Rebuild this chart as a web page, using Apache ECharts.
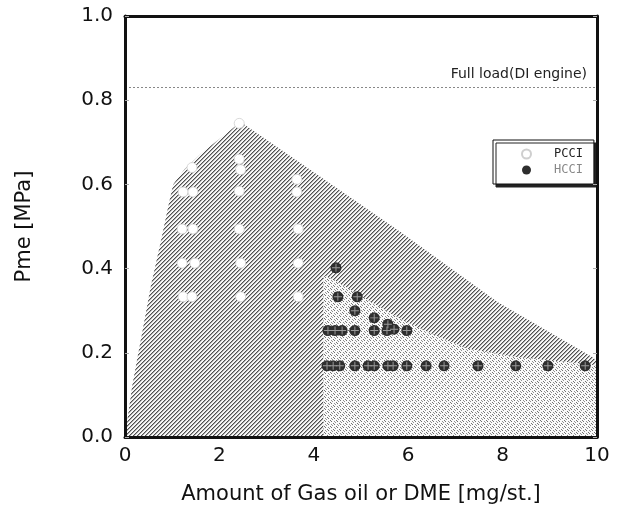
<!DOCTYPE html>
<html>
<head>
<meta charset="utf-8">
<script src="https://cdn.jsdelivr.net/npm/echarts@6/dist/echarts.min.js"></script>
<style>
html,body{margin:0;padding:0;background:#fff;}
#chart{width:620px;height:512px;}
</style>
</head>
<body>
<div id="chart"></div>
<script>
// ---- data ----
const xRange = [0, 10];
const yRange = [0, 1.0];
const fullLoadPme = 0.826;
const fullLoadLabel = 'Full load(DI engine)';
const seriesNames = ['PCCI', 'HCCI'];

// boundary of PCCI operating region [mg/st., MPa]
const pcciRegion = [[0,0],[0.15,0.12],[0.35,0.24],[0.55,0.36],[0.75,0.46],[0.92,0.55],[1.02,0.6],
  [1.25,0.635],[1.6,0.672],[2.45,0.748],[3.7,0.652],[5.8,0.49],[7.9,0.32],[9.9,0.19],[10,0.18],[10,0]];
// boundary of HCCI operating region
const hcciRegion = [[4.2,0],[4.2,0.385],[4.45,0.372],[5.0,0.335],[5.9,0.277],[6.5,0.245],
  [7.25,0.21],[8.3,0.19],[9.9,0.172],[10,0.17],[10,0]];

const pcciPoints = [[2.42,0.745],[2.42,0.66],[2.45,0.635],[1.42,0.64],
  [1.23,0.582],[1.44,0.582],[2.42,0.584],[3.64,0.612],[3.64,0.582],
  [1.21,0.494],[1.44,0.494],[2.42,0.494],[3.67,0.494],
  [1.21,0.413],[1.48,0.413],[2.45,0.413],[3.67,0.413],
  [1.23,0.333],[1.42,0.333],[2.45,0.333],[3.67,0.333]];

const hcciPoints = [[4.47,0.402],[4.51,0.333],[4.92,0.333],[4.87,0.300],[5.28,0.283],[5.57,0.268],
  [4.30,0.253],[4.45,0.253],[4.60,0.253],[4.87,0.253],[5.28,0.253],[5.55,0.253],[5.70,0.256],[5.97,0.253],
  [4.28,0.169],[4.41,0.169],[4.55,0.169],[4.87,0.169],[5.15,0.169],[5.28,0.169],[5.57,0.169],[5.68,0.169],
  [5.97,0.169],[6.38,0.169],[6.76,0.169],[7.48,0.169],[8.28,0.169],[8.96,0.169],[9.75,0.169]];

// ---- patterns ----
function makeTile(size, fn) {
  const c = document.createElement('canvas');
  c.width = size; c.height = size;
  const ctx = c.getContext('2d');
  const img = ctx.createImageData(size, size);
  for (let y = 0; y < size; y++) for (let x = 0; x < size; x++) {
    const v = fn(x, y); const i = (y * size + x) * 4;
    img.data[i] = v; img.data[i+1] = v; img.data[i+2] = v; img.data[i+3] = 255;
  }
  ctx.putImageData(img, 0, 0);
  return c;
}
const hatchTile = makeTile(4, (x, y) => { const k = (x + y) % 4; return k === 0 ? 80 : (k === 1 ? 170 : 248); });
const dotTile = makeTile(6, (x, y) => {
  const d = (x - y + 6) % 6;
  if (d === 0 && x % 3 !== 2) return 115;
  if (d === 3 && x % 3 !== 0) return 145;
  return 250;
});
const hatchFill = { image: hatchTile, repeat: 'repeat' };
const dotFill = { image: dotTile, repeat: 'repeat' };

function regionSeries(pts, fill) {
  return {
    type: 'custom', silent: true, data: [[0, 0]],
    renderItem: (params, api) => ({
      type: 'polygon',
      shape: { points: pts.map(p => api.coord(p)) },
      style: { fill: fill, stroke: null }
    })
  };
}

const font = 'DejaVu Sans';
const chart = echarts.init(document.getElementById('chart'));
const axisLineStyle = { show: true, onZero: false, lineStyle: { color: '#111', width: 3 } };
chart.setOption({
  animation: false,
  backgroundColor: '#fff',
  grid: { left: 125, right: 23, top: 16, bottom: 75, containLabel: false },
  xAxis: [{
    type: 'value', min: xRange[0], max: xRange[1], interval: 2, z: 10,
    axisLine: axisLineStyle, axisTick: { show: false }, splitLine: { show: false },
    axisLabel: { fontFamily: font, fontSize: 20, color: '#111', margin: 9 },
    name: 'Amount of Gas oil or DME [mg/st.]', nameLocation: 'middle', nameGap: 47,
    nameTextStyle: { fontFamily: font, fontSize: 21, color: '#111' }
  }, {
    type: 'value', position: 'top', min: xRange[0], max: xRange[1], interval: 2, z: 10,
    axisLine: axisLineStyle, axisTick: { show: false }, axisLabel: { show: false }, splitLine: { show: false }
  }],
  yAxis: [{
    type: 'value', min: yRange[0], max: yRange[1], interval: 0.2, z: 10,
    axisLine: axisLineStyle,
    axisTick: { show: true, inside: true, length: 4, lineStyle: { color: '#aaa', width: 1 } },
    splitLine: { show: false },
    axisLabel: { fontFamily: font, fontSize: 20, color: '#111', margin: 12, formatter: v => v.toFixed(1) },
    name: 'Pme [MPa]', nameLocation: 'middle', nameGap: 90,
    nameTextStyle: { fontFamily: font, fontSize: 21, color: '#111' }
  }, {
    type: 'value', position: 'right', min: yRange[0], max: yRange[1], interval: 0.2, z: 10,
    axisLine: axisLineStyle,
    axisTick: { show: true, inside: true, length: 4, lineStyle: { color: '#aaa', width: 1 } },
    axisLabel: { show: false }, splitLine: { show: false }
  }],
  legend: {
    data: [{ name: seriesNames[0], textStyle: { color: '#222' } }, { name: seriesNames[1], textStyle: { color: '#888' } }],
    orient: 'vertical', left: 493, top: 140,
    padding: [8, 11, 8, 28], itemWidth: 9, itemHeight: 9, itemGap: 4,
    backgroundColor: '#fff', borderColor: '#111', borderWidth: 1, borderRadius: 0,
    shadowColor: '#222', shadowOffsetX: 3, shadowOffsetY: 3, shadowBlur: 0,
    textStyle: { fontFamily: 'DejaVu Sans Mono', fontSize: 12, lineHeight: 12, padding: [0, 0, 0, 18] }
  },
  series: [
    regionSeries(pcciRegion, hatchFill),
    regionSeries(hcciRegion, dotFill),
    {
      name: seriesNames[0], type: 'scatter', data: pcciPoints, symbol: 'circle', symbolSize: 10,
      itemStyle: { color: '#fff', borderColor: '#cfcfcf', borderWidth: 0.8, opacity: 1 },
      markLine: {
        silent: true, symbol: 'none',
        lineStyle: { color: '#888', type: [2, 2], width: 1 },
        label: { show: true, position: 'insideEndTop', formatter: fullLoadLabel, fontFamily: font,
          fontSize: 14, color: '#222', distance: [10, 6] },
        data: [{ yAxis: fullLoadPme }]
      }
    },
    {
      name: seriesNames[1], type: 'scatter', data: hcciPoints, symbol: 'circle', symbolSize: 11,
      itemStyle: { color: '#2e2e2e', opacity: 1 }
    },
    {
      type: 'scatter', data: hcciPoints, silent: true, symbolSize: 8,
      symbol: 'path://M0,4.4H10V5.6H0Z M4.4,0H5.6V10H4.4Z',
      itemStyle: { color: '#9a9a9a', opacity: 1 }
    }
  ]
});
</script>
</body>
</html>
